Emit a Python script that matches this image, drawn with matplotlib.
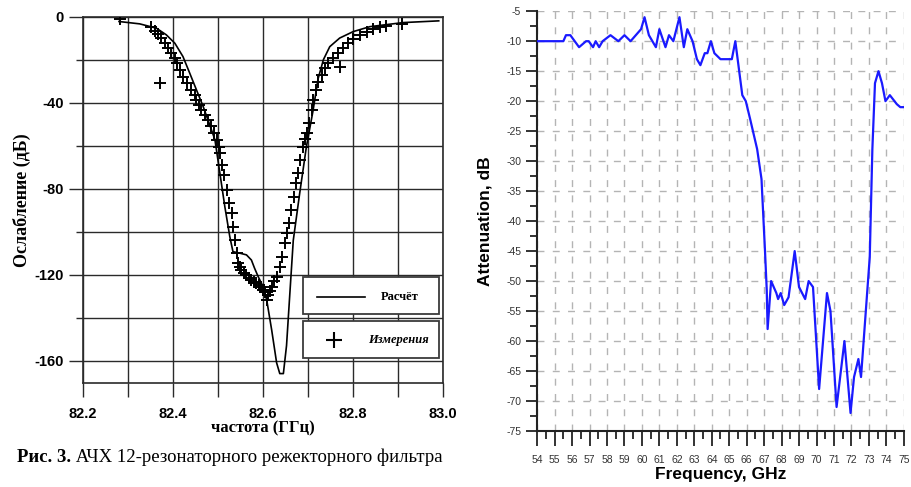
import numpy as np
import matplotlib
matplotlib.use("Agg")
import matplotlib.pyplot as plt
from matplotlib.patches import Rectangle
from matplotlib.lines import Line2D
from matplotlib.ticker import MultipleLocator, FixedLocator

plt.rcParams["axes.unicode_minus"] = False

# --- notch filter, calculated response (GHz, dB)
calc_f = [82.280, 82.326, 82.363, 82.385, 82.404, 82.422, 82.437, 82.452, 82.467,
          82.480, 82.493, 82.504, 82.515, 82.526, 82.533, 82.548, 82.563, 82.574,
          82.581, 82.589, 82.600, 82.608, 82.619, 82.630, 82.637, 82.645, 82.652,
          82.659, 82.667, 82.681, 82.696, 82.711, 82.722, 82.734, 82.748, 82.770,
          82.800, 82.837, 82.911, 82.990]
calc_db = [-2.3, -3.4, -5.4, -8.5, -12.4, -18.6, -26.3, -34.1, -41.9,
           -49.5, -57.3, -72.8, -88.4, -102.3, -109.3, -110.0, -110.8, -113.2,
           -117.0, -120.9, -125.6, -131.8, -145.7, -161.0, -166.0, -166.0, -153.0,
           -130.0, -104.0, -82.5, -60.7, -43.6, -29.0, -20.0, -14.0, -10.0,
           -7.0, -4.7, -2.8, -2.0]

# --- notch filter, measured points
meas_f = [82.282, 82.352, 82.359, 82.367, 82.370, 82.374, 82.382, 82.389, 82.396,
          82.404, 82.409, 82.415, 82.422, 82.431, 82.439, 82.448, 82.452, 82.458,
          82.463, 82.470, 82.478, 82.485, 82.492, 82.498, 82.502, 82.504, 82.508,
          82.513, 82.519, 82.524, 82.530, 82.533, 82.537, 82.541, 82.544, 82.548,
          82.552, 82.558, 82.563, 82.568, 82.574, 82.580, 82.585, 82.590, 82.596,
          82.600, 82.604, 82.608, 82.611, 82.615, 82.619, 82.625, 82.630, 82.637,
          82.643, 82.648, 82.653, 82.658, 82.663, 82.668, 82.674, 82.678, 82.683,
          82.689, 82.693, 82.698, 82.702, 82.708, 82.711, 82.717, 82.722, 82.730,
          82.737, 82.745, 82.756, 82.767, 82.770, 82.778, 82.789, 82.800, 82.815,
          82.830, 82.845, 82.859, 82.874, 82.908]
meas_db = [-1.2, -4.7, -6.5, -8.0, -31.0, -10.0, -12.4, -14.7, -17.0,
           -19.4, -21.7, -24.8, -27.9, -31.0, -34.0, -36.4, -38.7, -41.0,
           -43.4, -45.7, -48.0, -51.0, -54.2, -57.3, -60.5, -63.5, -69.0,
           -73.6, -80.6, -86.8, -91.4, -97.7, -103.9, -110.0, -114.7, -116.5,
           -117.8, -119.0, -120.1, -121.5, -122.5, -123.5, -124.0, -125.0, -125.6,
           -127.0, -127.9, -131.8, -129.4, -127.5, -125.6, -123.0, -120.9, -116.3,
           -111.6, -105.4, -100.7, -96.1, -89.9, -83.7, -77.5, -72.8, -66.7,
           -60.5, -57.0, -54.2, -49.6, -43.4, -38.7, -34.1, -30.2, -27.1,
           -24.0, -21.7, -19.4, -17.0, -23.3, -14.7, -12.4, -10.5, -8.5,
           -7.0, -5.9, -4.9, -4.3, -3.4]

left_xticks = [82.2, 82.4, 82.6, 82.8, 83.0]
left_xlabels = ["82.2", "82.4", "82.6", "82.8", "83.0"]
left_yticks = [0, -40, -80, -120, -160]

# --- wideband attenuation sweep
freq = [54.0, 55.5, 55.65, 55.9, 56.4, 56.8, 56.95, 57.2, 57.35, 57.55, 57.75,
        58.2, 58.65, 59.0, 59.35, 59.65, 59.95, 60.15, 60.4, 60.8, 61.0, 61.35,
        61.55, 61.8, 62.15, 62.4, 62.6, 62.9, 63.15, 63.35, 63.6, 63.75, 63.95,
        64.15, 64.5, 65.15, 65.35, 65.75, 65.95, 66.2, 66.6, 66.85, 67.05, 67.15,
        67.2, 67.4, 67.7, 67.8, 67.95, 68.15, 68.4, 68.75, 69.0, 69.35, 69.55,
        69.8, 70.15, 70.6, 70.8, 71.15, 71.6, 71.95, 72.15, 72.4, 72.55, 72.85,
        73.05, 73.2, 73.35, 73.55, 73.75, 73.95, 74.2, 74.6, 74.8, 75.0]
atten = [-10, -10, -9, -9, -11, -10, -10, -11, -10, -11, -10,
         -9, -10, -9, -10, -9, -8, -6, -9, -11, -8, -11,
         -9, -10, -6, -11, -8, -10, -13, -14, -12, -12, -10,
         -12, -13, -13, -10, -19, -20, -23, -28, -33, -45, -51.5,
         -58, -50, -52, -53, -52, -54, -52.7, -45, -51, -53, -50,
         -51, -68, -52, -55, -71, -60, -72, -66, -63, -66, -54,
         -46, -28, -17, -15, -17, -20, -19, -20.5, -21, -21]

right_xticks = list(range(54, 76))
right_yticks = list(range(-75, -4, 5))

SERIF = "Liberation Serif"
SANS = "Liberation Sans"

fig = plt.figure(figsize=(9.12, 4.87), dpi=100)

# ---------------- left panel ----------------
ax1 = fig.add_axes([0.091, 0.213, 0.395, 0.753])
ax1.plot(calc_f, calc_db, color="black", lw=1.2, zorder=3)
ax1.plot(meas_f, meas_db, linestyle="None", marker="+", ms=8, mew=1.4,
         color="black", zorder=4)
ax1.set_xlim(82.2, 83.0)
ax1.set_ylim(-170.5, 0)
ax1.xaxis.set_major_locator(FixedLocator(left_xticks))
ax1.xaxis.set_minor_locator(MultipleLocator(0.1))
ax1.set_xticklabels(left_xlabels)
ax1.yaxis.set_major_locator(FixedLocator(left_yticks))
ax1.yaxis.set_minor_locator(MultipleLocator(20))
ax1.grid(which="both", color="#2a2a2a", lw=1.0)
ax1.set_axisbelow(True)
for s in ax1.spines.values():
    s.set_color("#2a2a2a")
    s.set_linewidth(1.2)
ax1.tick_params(which="both", direction="out", length=10, width=1.0,
                color="#2a2a2a")
ax1.tick_params(axis="y", which="minor", length=5)
ax1.tick_params(axis="x", which="major", pad=7)
ax1.tick_params(axis="y", which="major", pad=4)
for lab in ax1.get_xticklabels() + ax1.get_yticklabels():
    lab.set_fontfamily(SANS)
    lab.set_fontweight("bold")
    lab.set_fontsize(10.5)
ax1.set_xlabel("частота (ГГц)", family=SERIF, fontweight="bold", fontsize=12,
               labelpad=0)
ax1.set_ylabel("Ослабление (дБ)", family=SERIF, fontweight="bold", fontsize=13,
               labelpad=2)

# legend boxes, drawn in figure coordinates
for y0 in (0.355, 0.265):
    fig.patches.append(Rectangle((0.332, y0), 0.149, 0.076, transform=fig.transFigure,
                                 facecolor="white", edgecolor="#3a3a3a", lw=1.3,
                                 zorder=5))
fig.lines.append(Line2D([0.348, 0.400], [0.390, 0.390], transform=fig.transFigure,
                        color="black", lw=1.2, zorder=6))
fig.lines.append(Line2D([0.366], [0.302], transform=fig.transFigure, marker="+",
                        ms=11, mew=1.5, color="black", zorder=6))
fig.text(0.418, 0.391, "Расчёт", family=SERIF, fontweight="bold", fontsize=9,
         va="center", ha="left", zorder=7)
fig.text(0.404, 0.302, "Измерения", family=SERIF, fontweight="bold", fontsize=9,
         style="italic", va="center", ha="left", zorder=7)

# ---------------- right panel ----------------
ax2 = fig.add_axes([0.589, 0.115, 0.402, 0.862])
ax2.plot(freq, atten, color="#1a1aff", lw=1.6, zorder=3)
ax2.set_xlim(54, 75)
ax2.set_ylim(-75, -5)
ax2.set_xticks(right_xticks)
ax2.set_xticklabels([str(v) for v in right_xticks])
ax2.xaxis.set_minor_locator(MultipleLocator(0.5))
ax2.set_yticks(right_yticks)
ax2.set_yticklabels([str(v) for v in right_yticks])
ax2.yaxis.set_minor_locator(MultipleLocator(2.5))
ax2.grid(which="major", color="#b4b4b4", lw=1.0, linestyle=(0, (5, 6)))
ax2.set_axisbelow(True)
ax2.spines["top"].set_visible(False)
ax2.spines["right"].set_visible(False)
for side in ("left", "bottom"):
    ax2.spines[side].set_color("#222222")
    ax2.spines[side].set_linewidth(1.5)
ax2.tick_params(which="major", direction="out", length=8, width=1.3,
                color="#222222", labelsize=7.5, labelcolor="#333333")
ax2.tick_params(which="minor", direction="out", length=5, width=1.3,
                color="#222222")
ax2.tick_params(axis="x", which="major", length=11, pad=6)
ax2.tick_params(axis="x", which="minor", length=6)
for lab in ax2.get_xticklabels() + ax2.get_yticklabels():
    lab.set_fontfamily(SANS)
ax2.set_xlabel("Frequency, GHz", family=SANS, fontweight="bold", fontsize=12.5,
               labelpad=2)
ax2.set_ylabel("Attenuation, dB", family=SANS, fontweight="bold", fontsize=12.5,
               labelpad=10)

# caption under the left panel: bold figure number, then regular text
cap = fig.text(0.019, 0.052, "Рис. 3.", family=SERIF, fontweight="bold",
               fontsize=13.5, va="baseline", ha="left")
fig.canvas.draw()
cap_box = cap.get_window_extent()
fig.text(cap_box.x1 / fig.bbox.width, 0.052,
         " АЧХ 12-резонаторного режекторного фильтра", family=SERIF,
         fontsize=13.5, va="baseline", ha="left")

fig.savefig("out.png", dpi=100)
